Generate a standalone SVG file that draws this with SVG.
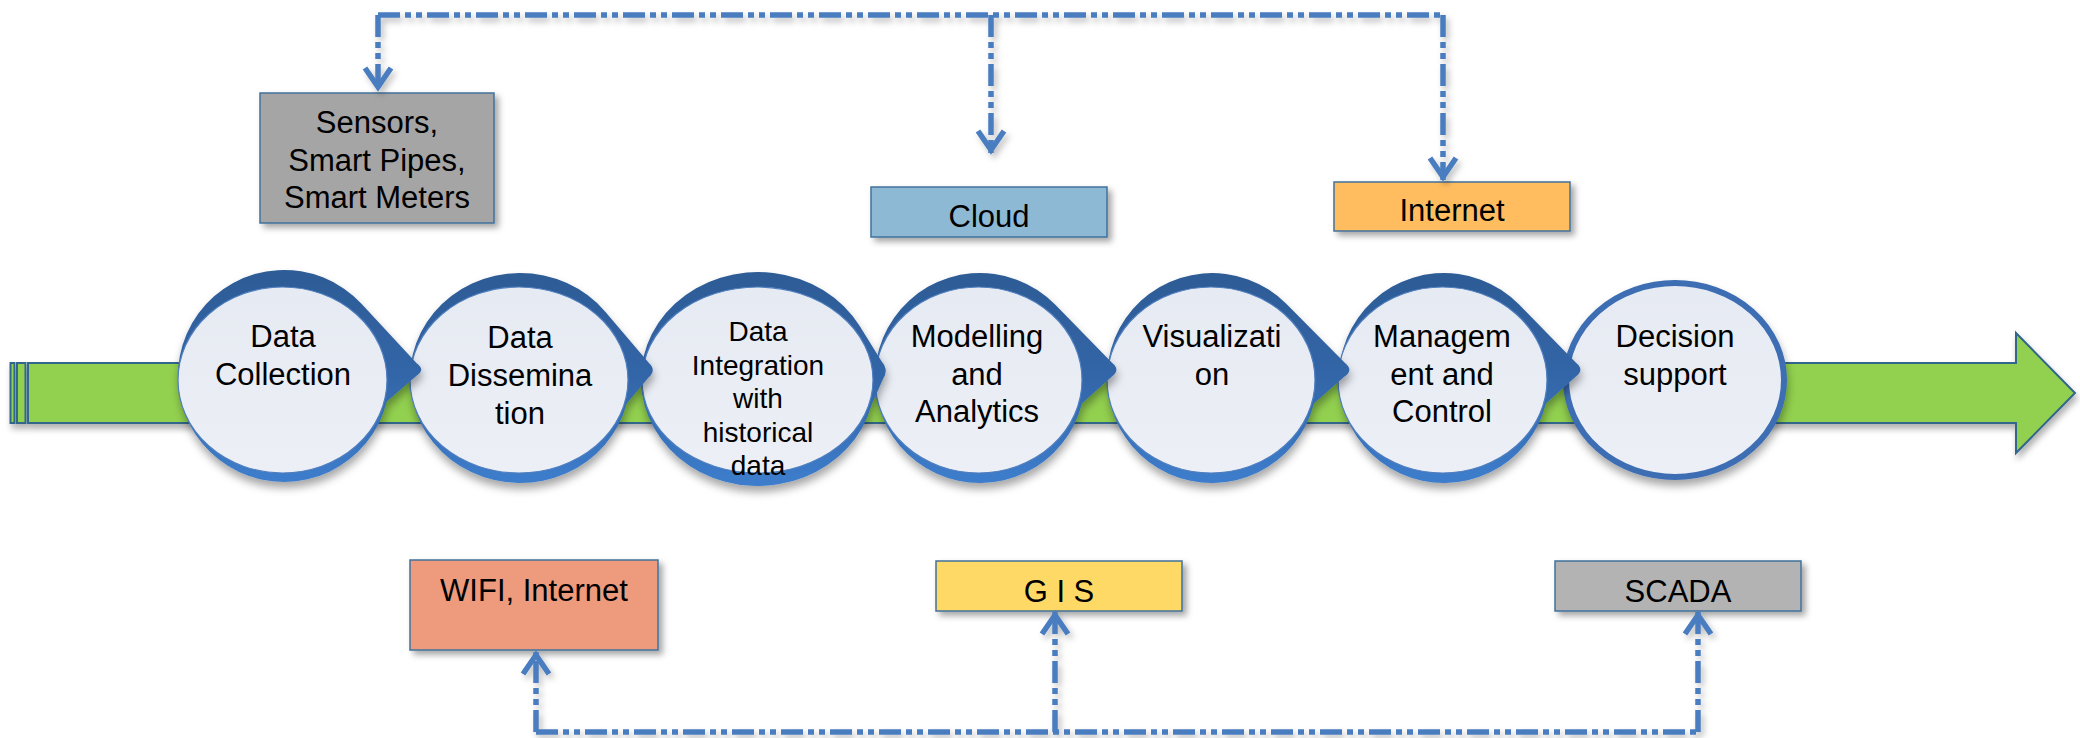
<svg xmlns="http://www.w3.org/2000/svg" width="2080" height="738" viewBox="0 0 2080 738">
<style>
.lbl{font-family:"Liberation Sans",Arial,sans-serif;font-size:31px;fill:#000;text-anchor:middle}
.sm{font-size:28px}
.box{stroke:#41719C;stroke-width:1.5;filter:url(#boxsh)}
.conn{fill:none;stroke:#4A7DC0;stroke-width:5.5;stroke-dasharray:22 5 6 5 6 5}
.arr{marker-end:url(#chev)}
.face{fill:url(#faceg);stroke:#4F7FBF;stroke-width:1.2}
.body{fill:url(#blueg);filter:url(#nodesh)}
.bar{fill:#92D050;stroke:#30668A;stroke-width:2}
</style>
<defs>
<linearGradient id="blueg" x1="0" y1="0" x2="0" y2="1">
<stop offset="0" stop-color="#2D5B95"/>
<stop offset="0.5" stop-color="#3366A8"/>
<stop offset="1" stop-color="#3D7DCC"/>
</linearGradient>
<linearGradient id="faceg" x1="0" y1="0" x2="0" y2="1">
<stop offset="0" stop-color="#E6EAF2"/>
<stop offset="1" stop-color="#ECEFF6"/>
</linearGradient>
<filter id="boxsh" x="-10%" y="-10%" width="130%" height="140%">
<feDropShadow dx="4" dy="4" stdDeviation="3" flood-color="#000" flood-opacity="0.35"/>
</filter>
<filter id="nodesh" x="-15%" y="-15%" width="130%" height="140%">
<feDropShadow dx="1" dy="6" stdDeviation="4" flood-color="#000" flood-opacity="0.35"/>
</filter>
<filter id="barsh" x="-5%" y="-20%" width="110%" height="160%">
<feDropShadow dx="2" dy="5" stdDeviation="3" flood-color="#000" flood-opacity="0.3"/>
</filter>
<filter id="lnsh" filterUnits="userSpaceOnUse" x="0" y="0" width="2080" height="738">
<feDropShadow dx="3" dy="4" stdDeviation="3" flood-color="#000" flood-opacity="0.25"/>
</filter>
<marker id="chev" markerUnits="userSpaceOnUse" markerWidth="40" markerHeight="40" viewBox="-30 -20 40 40" refX="0" refY="0" orient="auto" overflow="visible">
<path d="M-22,-13 L-3,0 L-22,13" fill="none" stroke="#4A7DC0" stroke-width="5.5" stroke-linejoin="miter"/>
</marker>
</defs>

<g id="flow-arrow" filter="url(#barsh)">
<rect class="bar" x="10.5" y="363" width="4" height="60"/>
<rect class="bar" x="17" y="363" width="8.5" height="60"/>
<path class="bar" d="M28,363 H2016 V333 L2075,393 L2016,453 V423 H28 Z"/>
</g>

<g id="node-decision-support">
<ellipse cx="1675" cy="380" rx="109" ry="97" fill="url(#faceg)" stroke="#3D6EB3" stroke-width="6" filter="url(#nodesh)"/>
<text class="lbl" x="1675" y="347">Decision</text>
<text class="lbl" x="1675" y="384.5">support</text>
</g>

<g id="node-management-control">
<path class="body" d="M1519.1,304.6 L1576,362.8 Q1585,370 1575.6,376.7 L1545.9,403.4 A105,105 0 1 1 1519.1,304.6 Z"/>
<ellipse class="face" cx="1442.5" cy="380" rx="104.5" ry="93"/>
<text class="lbl" x="1442" y="347">Managem</text>
<text class="lbl" x="1442" y="384.5">ent and</text>
<text class="lbl" x="1442" y="422">Control</text>
</g>

<g id="node-visualization">
<path class="body" d="M1286.5,304 L1345,362.9 Q1354,370 1344.5,376.6 L1313.9,403.4 A105,105 0 1 1 1286.5,304 Z"/>
<ellipse class="face" cx="1211" cy="380" rx="104" ry="93"/>
<text class="lbl" x="1212" y="347">Visualizati</text>
<text class="lbl" x="1212" y="384.5">on</text>
</g>

<g id="node-modelling-analytics">
<path class="body" d="M1055.1,304.6 L1112,362.8 Q1121,370 1111.6,376.7 L1081.9,403.4 A105,105 0 1 1 1055.1,304.6 Z"/>
<ellipse class="face" cx="978.5" cy="380" rx="103.5" ry="93"/>
<text class="lbl" x="977" y="347">Modelling</text>
<text class="lbl" x="977" y="384.5">and</text>
<text class="lbl" x="977" y="422">Analytics</text>
</g>

<g id="node-data-integration">
<path class="body" d="M859.7,326.1 L881.7,361.5 Q889,370 883,379.1 L871.5,404.9 A117,107 0 1 1 859.7,326.1 Z"/>
<ellipse class="face" cx="757.5" cy="380" rx="115.5" ry="93"/>
<text class="lbl sm" x="758" y="341">Data</text>
<text class="lbl sm" x="758" y="374.5">Integration</text>
<text class="lbl sm" x="758" y="408">with</text>
<text class="lbl sm" x="758" y="441.5">historical</text>
<text class="lbl sm" x="758" y="475">data</text>
</g>

<g id="node-data-dissemination">
<path class="body" d="M605.3,311.7 L648.5,362.4 Q657,370 648.5,377.6 L626.7,403.4 A110,105 0 1 1 605.3,311.7 Z"/>
<ellipse class="face" cx="519" cy="380" rx="109" ry="93"/>
<text class="lbl" x="520" y="348">Data</text>
<text class="lbl" x="520" y="386">Dissemina</text>
<text class="lbl" x="520" y="424">tion</text>
</g>

<g id="node-data-collection">
<path class="body" d="M361.7,303.9 L416.9,363.4 Q426,370 416.2,375.9 L386.8,401.6 A106,106 0 1 1 361.7,303.9 Z"/>
<ellipse class="face" cx="282.5" cy="380" rx="104.5" ry="93"/>
<text class="lbl" x="283" y="347">Data</text>
<text class="lbl" x="283" y="385">Collection</text>
</g>

<g id="box-sensors">
<rect class="box" x="260" y="93" width="234" height="130" fill="#A5A5A5"/>
<text class="lbl" x="377" y="133">Sensors,</text>
<text class="lbl" x="377" y="171">Smart Pipes,</text>
<text class="lbl" x="377" y="208">Smart Meters</text>
</g>

<g id="box-cloud">
<rect class="box" x="871" y="187" width="236" height="50" fill="#8DB9D5"/>
<text class="lbl" x="989" y="227">Cloud</text>
</g>

<g id="box-internet">
<rect class="box" x="1334" y="182" width="236" height="49" fill="#FFBD5E"/>
<text class="lbl" x="1452" y="221">Internet</text>
</g>

<g id="box-wifi">
<rect class="box" x="410" y="560" width="248" height="90" fill="#EE9A7C"/>
<text class="lbl" x="534" y="601">WIFI, Internet</text>
</g>

<g id="box-gis">
<rect class="box" x="936" y="561" width="246" height="50" fill="#FFD966"/>
<text class="lbl" x="1059" y="601.5">G I S</text>
</g>

<g id="box-scada">
<rect class="box" x="1555" y="561" width="246" height="50" fill="#B3B3B3"/>
<text class="lbl" x="1678" y="601.5">SCADA</text>
</g>

<g id="connectors" filter="url(#lnsh)">
<path class="conn" d="M378,15 H1443"/>
<path class="conn arr" d="M378,15 V90"/>
<path class="conn arr" d="M991,15 V153"/>
<path class="conn arr" d="M1443,15 V180"/>
<path class="conn" d="M536,732 H1698"/>
<path class="conn arr" d="M536,732 V652"/>
<path class="conn arr" d="M1055,732 V612"/>
<path class="conn arr" d="M1698,732 V612"/>
</g>
</svg>
